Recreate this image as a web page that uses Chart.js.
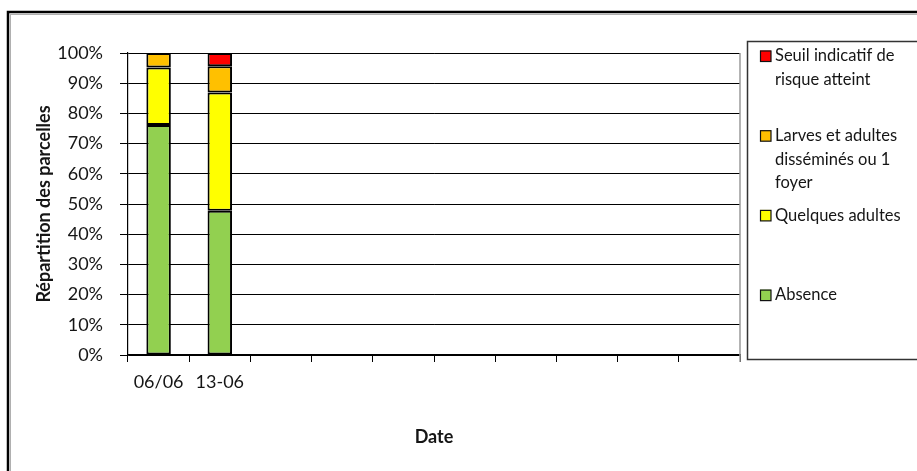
<!DOCTYPE html>
<html>
<head>
<meta charset="utf-8">
<script src="https://cdn.jsdelivr.net/npm/chart.js@4/dist/chart.umd.min.js"></script>
<style>
  html, body { margin: 0; padding: 0; background: #fff; }
  canvas { display: block; }
</style>
</head>
<body>
<canvas id="c" width="917" height="471"></canvas>
<script>
// Weekly survey: share of plots per infestation level
const categories = ['06/06', '13-06', '', '', '', '', '', '', '', ''];

const absence         = [76.2, 47.8, null, null, null, null, null, null, null, null];
const quelquesAdultes = [19.0, 39.1, null, null, null, null, null, null, null, null];
const larvesAdultes   = [4.8,  8.7,  null, null, null, null, null, null, null, null];
const seuilAtteint    = [null, 4.4,  null, null, null, null, null, null, null, null];

const seriesLines = {
  seuil:    ['Seuil indicatif de', 'risque atteint'],
  larves:   ['Larves et adultes', 'disséminés ou 1', 'foyer'],
  quelques: ['Quelques adultes'],
  absence:  ['Absence']
};

const yTicks = [0, 10, 20, 30, 40, 50, 60, 70, 80, 90, 100];

const FONT = 'Lato, "Open Sans", sans-serif';
const TEXT = '#151515';

// white page with the framed border
const framePlugin = {
  id: 'frame',
  beforeDraw(chart) {
    const ctx = chart.ctx;
    ctx.save();
    ctx.fillStyle = '#fff';
    ctx.fillRect(0, 0, chart.width, chart.height);
    ctx.strokeStyle = '#000';
    ctx.lineWidth = 2.5;
    ctx.strokeRect(8, 12, chart.width + 40, chart.height + 40);
    ctx.strokeStyle = '#b0b0b0';
    ctx.lineWidth = 1;
    ctx.strokeRect(10.5, 14.5, chart.width + 40, chart.height + 40);
    ctx.restore();
  }
};

// right edge of the plot and the boxed legend with wrapped labels
const legendPlugin = {
  id: 'boxLegend',
  afterDraw(chart) {
    const ctx = chart.ctx;
    const area = chart.chartArea;
    ctx.save();
    ctx.strokeStyle = '#9a9a9a';
    ctx.lineWidth = 1.5;
    ctx.beginPath();
    ctx.moveTo(area.right, area.top);
    ctx.lineTo(area.right, area.bottom + 7);
    ctx.stroke();

    ctx.strokeStyle = '#333';
    ctx.lineWidth = 1.5;
    ctx.strokeRect(747.5, 41.5, 300, 318);

    const items = chart.data.datasets.slice().reverse();
    ctx.font = '16.5px ' + FONT;
    ctx.textBaseline = 'middle';
    ctx.textAlign = 'left';
    items.forEach((ds, i) => {
      const y0 = 56 + i * 79.7;
      ctx.fillStyle = ds.backgroundColor;
      ctx.fillRect(760, y0 - 5.5, 11, 11);
      ctx.strokeStyle = '#111';
      ctx.lineWidth = 1.2;
      ctx.strokeRect(760.5, y0 - 5, 10.5, 10.5);
      ctx.fillStyle = TEXT;
      ds.lines.forEach((line, k) => ctx.fillText(line, 775, y0 + k * 23.5));
    });
    ctx.restore();
  }
};

const barStyle = {
  borderColor: '#000',
  borderWidth: 2,
  borderSkipped: false,
  categoryPercentage: 1,
  barPercentage: 0.4
};

new Chart(document.getElementById('c'), {
  type: 'bar',
  data: {
    labels: categories,
    datasets: [
      { label: seriesLines.absence.join(' '),  lines: seriesLines.absence,  data: absence,         backgroundColor: '#92D050', ...barStyle },
      { label: seriesLines.quelques.join(' '), lines: seriesLines.quelques, data: quelquesAdultes, backgroundColor: '#FFFF00', ...barStyle },
      { label: seriesLines.larves.join(' '),   lines: seriesLines.larves,   data: larvesAdultes,   backgroundColor: '#FFC000', ...barStyle },
      { label: seriesLines.seuil.join(' '),    lines: seriesLines.seuil,    data: seuilAtteint,    backgroundColor: '#FF0000', ...barStyle }
    ]
  },
  options: {
    responsive: false,
    animation: false,
    layout: { padding: { left: 0, top: 53, right: 177, bottom: 0 } },
    plugins: { legend: { display: false }, tooltip: { enabled: false } },
    scales: {
      x: {
        stacked: true,
        offset: true,
        grid: { offset: true, drawOnChartArea: false, drawTicks: true, tickLength: 7, color: '#000', lineWidth: 1 },
        border: { color: '#000', width: 1.2 },
        ticks: { padding: 9, color: TEXT, font: { family: FONT, size: 18 }, maxRotation: 0, autoSkip: false },
        title: { display: true, text: 'Date', color: TEXT, font: { family: FONT, size: 18, weight: 'bold' }, padding: { top: 0, bottom: 23 } },
        afterFit(scale) { scale.height = 116; }
      },
      y: {
        stacked: true,
        min: 0,
        max: 100,
        afterBuildTicks(scale) { scale.ticks = yTicks.map(v => ({ value: v })); },
        ticks: { padding: 17, color: TEXT, font: { family: FONT, size: 18 }, callback: v => v + '%' },
        grid: { color: '#000', lineWidth: 1, tickLength: 8 },
        border: { color: '#000', width: 1.2 },
        title: { display: true, text: 'Répartition des parcelles', color: TEXT, font: { family: FONT, size: 18, weight: 'bold' }, padding: { top: 33, bottom: 0 } },
        afterFit(scale) { scale.width = 128; }
      }
    }
  },
  plugins: [framePlugin, legendPlugin]
});
</script>
</body>
</html>
